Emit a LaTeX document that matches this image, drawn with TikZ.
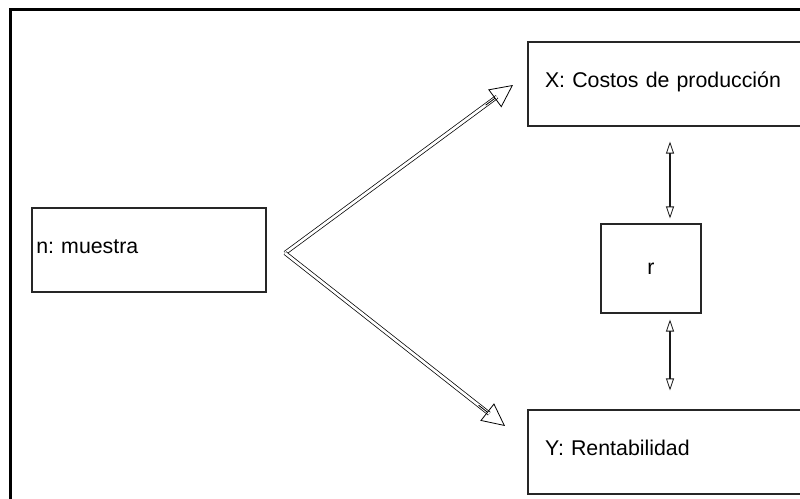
\documentclass[tikz,border=0pt]{standalone}
\usepackage{fontspec}
\setmainfont{Liberation Sans}
\usetikzlibrary{arrows.meta,calc}
\frenchspacing

\tikzset{
  box/.style={draw=black!85, line width=0.8pt, fill=white, inner sep=0pt,
              font=\fontsize{16}{19}\selectfont},
  textbox/.style={box, align=left, text height=12pt, text depth=7pt},
  shaft/.style={draw=black, line width=0.55pt, double=white, double distance=2pt},
  bighead/.style={draw=black, line width=0.6pt,
                  -{Triangle[open, length=17pt, width=16.5pt]}},
  vlink/.style={draw=black!90, line width=1.1pt,
                {Triangle[open, length=9pt, width=6pt, line width=0.6pt]}-{Triangle[open, length=9pt, width=6pt, line width=0.6pt]}},
}

\begin{document}
\begin{tikzpicture}[x=0.75pt, y=-0.75pt]
  \useasboundingbox (0,0) rectangle (800,499);
  \clip (0,0) rectangle (800,499);

  % outer frame
  \draw[line width=2.25pt] (10,10) rectangle (820,520);

  % boxes
  \node[textbox, minimum width=175.5pt, minimum height=63pt,
        text width=169pt] (n) at (149,250) {n: muestra};
  \node[textbox, minimum width=213pt, minimum height=63pt,
        text width=187.5pt] (X) at (670,84) {X: Costos de producción};
  \node[textbox, minimum width=213pt, minimum height=63pt,
        text width=187.5pt] (Y) at (670,452) {Y: Rentabilidad};
  \node[box, minimum width=75pt, minimum height=66.75pt] (r) at (651,268.5) {r};

  % branching arrows from the sample
  \coordinate (apex) at (285,253);
  \coordinate (tipX) at (513,85);
  \coordinate (tipY) at (505,426);
  \draw[shaft, shorten >=15pt] (apex) -- (tipX);
  \draw[shaft, shorten >=15pt] (apex) -- (tipY);
  \draw[bighead] ($(apex)!0.88!(tipX)$) -- (tipX);
  \draw[bighead] ($(apex)!0.88!(tipY)$) -- (tipY);

  % relation arrows
  \draw[vlink, shorten <=11.25pt, shorten >=3.75pt] (X.south) -- (X.south |- r.north);
  \draw[vlink, shorten <=4.5pt, shorten >=14.25pt] (X.south |- r.south) -- (Y.north);
\end{tikzpicture}
\end{document}
